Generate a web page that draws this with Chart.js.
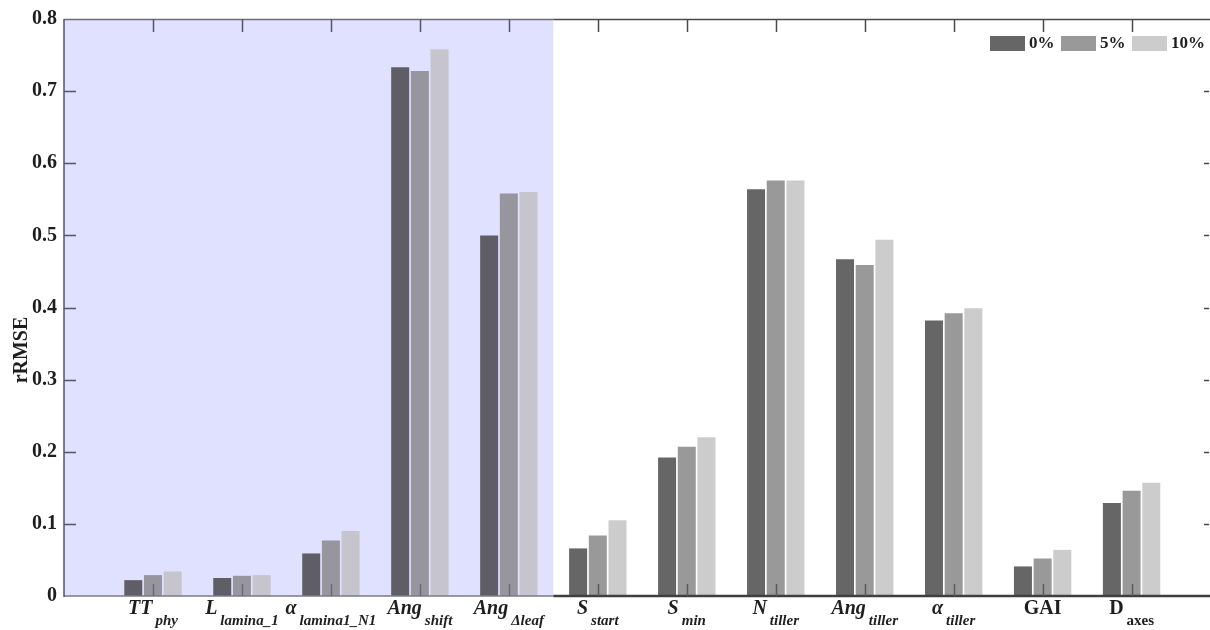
<!DOCTYPE html>
<html>
<head>
<meta charset="utf-8">
<script src="https://cdn.jsdelivr.net/npm/chart.js@4/dist/chart.umd.min.js"></script>
<style>
html,body{margin:0;padding:0;background:#fff;}
canvas{display:block;}
</style>
</head>
<body>
<canvas id="c" width="1210" height="630"></canvas>
<script>
// ---- data ----
const catMain = ['TT','L','α','Ang','Ang','S','S','N','Ang','α','GAI','D'];
const catSub = ['phy','lamina_1','lamina1_N1','shift','Δleaf','start','min','tiller','tiller','tiller','','axes'];
const catItalic = [true,true,true,true,true,true,true,true,true,true,false,false];
const seriesNames = ['0%','5%','10%'];
const pct0  = [0.022,0.025,0.059,0.733,0.500,0.066,0.192,0.564,0.467,0.382,0.041,0.129];
const pct5  = [0.029,0.028,0.077,0.728,0.558,0.084,0.207,0.576,0.459,0.392,0.052,0.146];
const pct10 = [0.034,0.029,0.090,0.758,0.560,0.105,0.220,0.576,0.494,0.399,0.064,0.157];
const yTicks = [0,0.1,0.2,0.3,0.4,0.5,0.6,0.7,0.8];
const shadedCount = 5; // first 5 parameter groups are highlighted

// ---- styling ----
const FONT = '"Liberation Serif", "Times New Roman", serif';
const baseColors = ['#666666','#999999','#cccccc'];
const shadedColors = ['#5f5e66','#97969e','#c6c5cd'];

function colorsFor(k){
  return catMain.map((_,i)=> i<shadedCount ? shadedColors[k] : baseColors[k]);
}
const allSeries = [pct0,pct5,pct10];
const datasets = allSeries.map((vals,k)=>({
  label: seriesNames[k],
  data: vals.map((v,i)=>({x:i,y:v})),
  backgroundColor: colorsFor(k),
  borderWidth: 0,
  categoryPercentage: 0.664,
  barPercentage: 0.914
}));

const deco = {
  id:'deco',
  beforeDraw(chart){
    const {ctx, chartArea:a, scales:{x}} = chart;
    const xr = x.getPixelForValue(shadedCount-0.5);
    ctx.save();
    ctx.fillStyle = '#e0e0ff';
    ctx.fillRect(a.left, a.top, xr-a.left, a.bottom-a.top);
    ctx.restore();
  },
  afterDatasetsDraw(chart){
    const {ctx, chartArea:a, scales:{x,y}} = chart;
    const xr = x.getPixelForValue(shadedCount-0.5);
    ctx.save();
    // top axis
    ctx.lineWidth = 1.5;
    ctx.strokeStyle = '#6e6e7a';
    ctx.beginPath(); ctx.moveTo(a.left, a.top+0.5); ctx.lineTo(xr, a.top+0.5); ctx.stroke();
    ctx.strokeStyle = '#4a4a4a';
    ctx.beginPath(); ctx.moveTo(xr, a.top+0.5); ctx.lineTo(a.right+2, a.top+0.5); ctx.stroke();
    // bottom axis
    ctx.strokeStyle = '#7a7a88'; ctx.lineWidth = 1.5;
    ctx.beginPath(); ctx.moveTo(a.left, a.bottom); ctx.lineTo(xr, a.bottom); ctx.stroke();
    ctx.strokeStyle = '#3f3f3f'; ctx.lineWidth = 2.5;
    ctx.beginPath(); ctx.moveTo(xr, a.bottom); ctx.lineTo(a.right+2, a.bottom); ctx.stroke();
    // left axis
    ctx.strokeStyle = '#55556a'; ctx.lineWidth = 1.5;
    ctx.beginPath(); ctx.moveTo(a.left, a.top); ctx.lineTo(a.left, a.bottom+1); ctx.stroke();
    // category ticks, top and bottom
    ctx.lineWidth = 1.5;
    catMain.forEach((_,i)=>{
      const px = Math.round(x.getPixelForValue(i))+0.5;
      ctx.strokeStyle = i<shadedCount ? '#55556a' : '#4a4a4a';
      ctx.beginPath(); ctx.moveTo(px, a.top); ctx.lineTo(px, a.top+13); ctx.stroke();
      ctx.strokeStyle = i<shadedCount ? '#6a6a76' : '#5a5a5a';
      ctx.beginPath(); ctx.moveTo(px, a.bottom); ctx.lineTo(px, a.bottom-12); ctx.stroke();
    });
    // y ticks left and right
    yTicks.slice(1,-1).forEach(v=>{
      const py = Math.round(y.getPixelForValue(v))+0.5;
      ctx.strokeStyle = '#55556a';
      ctx.beginPath(); ctx.moveTo(a.left, py); ctx.lineTo(a.left+12, py); ctx.stroke();
      ctx.strokeStyle = '#444';
      ctx.beginPath(); ctx.moveTo(a.right, py); ctx.lineTo(a.right-5, py); ctx.stroke();
    });
    ctx.restore();
  },
  afterDraw(chart){
    const {ctx, chartArea:a, scales:{x}} = chart;
    ctx.save();
    ctx.fillStyle = '#1e1e1e';
    ctx.textAlign = 'left';
    ctx.textBaseline = 'alphabetic';
    // category labels with subscripts
    catMain.forEach((m,i)=>{
      const it = catItalic[i] ? 'italic ' : '';
      const mf = it+'bold 20px '+FONT;
      const sf = it+'bold 15px '+FONT;
      ctx.font = mf; const mw = ctx.measureText(m).width;
      const s = catSub[i];
      ctx.font = sf; const sw = s ? ctx.measureText(s).width : 0;
      const gap = s ? 3 : 0;
      const cx = x.getPixelForValue(i);
      const x0 = cx - (mw+gap+sw)/2;
      ctx.font = mf; ctx.fillText(m, x0, a.bottom+18);
      if (s){ ctx.font = sf; ctx.fillText(s, x0+mw+gap, a.bottom+29); }
    });
    // y title
    ctx.save();
    ctx.translate(22, 350);
    ctx.rotate(-Math.PI/2);
    ctx.textAlign = 'center';
    ctx.textBaseline = 'middle';
    ctx.font = 'bold 20px '+FONT;
    ctx.fillText('rRMSE', 0, 0);
    ctx.restore();
    // legend
    const lx = [990,1061,1132];
    chart.data.datasets.forEach((ds,k)=>{
      ctx.fillStyle = baseColors[k];
      ctx.fillRect(lx[k], a.top+17, 35, 15);
      ctx.fillStyle = '#1e1e1e';
      ctx.font = 'bold 17px '+FONT;
      ctx.textBaseline = 'middle';
      ctx.fillText(ds.label, lx[k]+39, a.top+25);
    });
    ctx.restore();
  }
};

new Chart(document.getElementById('c'), {
  type:'bar',
  data:{datasets},
  options:{
    responsive:false,
    devicePixelRatio:1,
    animation:false,
    layout:{padding:{left:0,right:1,top:17,bottom:34}},
    plugins:{legend:{display:false}, tooltip:{enabled:false}},
    scales:{
      x:{type:'linear', min:-1.0, max:11.87, display:false, offset:false},
      y:{
        min:0, max:0.8,
        afterFit(s){ s.width = 64; },
        afterBuildTicks(s){ s.ticks = yTicks.map(v=>({value:v})); },
        grid:{display:false, drawTicks:false, tickLength:0},
        border:{display:false},
        ticks:{
          padding:7,
          color:'#1e1e1e',
          font:{family:FONT, size:20, weight:'bold'},
          callback:(v)=> v===0 ? '0' : v.toFixed(1)
        }
      }
    }
  },
  plugins:[deco]
});
</script>
</body>
</html>
